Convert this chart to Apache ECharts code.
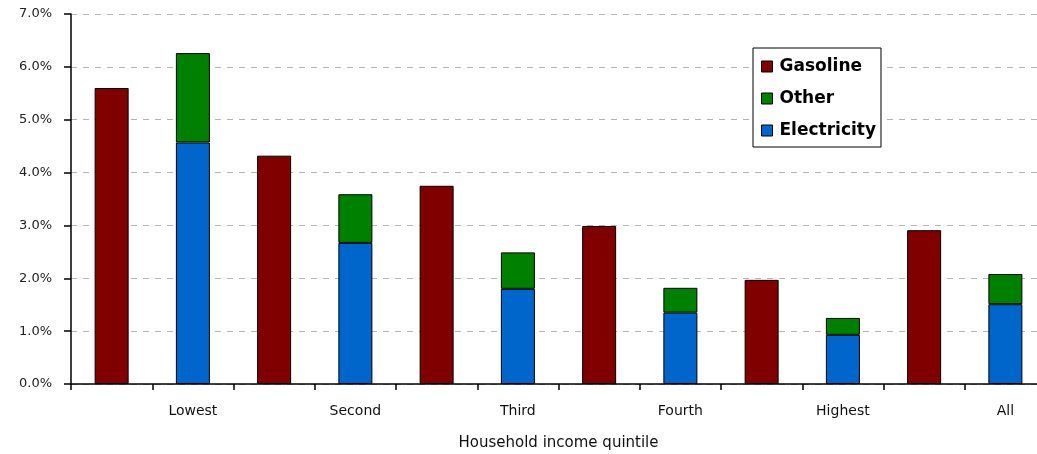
<!DOCTYPE html>
<html><head><meta charset="utf-8">
<script src="https://cdn.jsdelivr.net/npm/echarts@6/dist/echarts.min.js"></script>
<style>html,body{margin:0;padding:0;background:#fff}#c{width:1037px;height:454px}</style>
</head><body><div id="c"></div>
<script>
var quintiles = ['Lowest','Second','Third','Fourth','Highest','All'];
var gasoline = [5.60, 4.32, 3.75, 2.99, 1.97, 2.91];
var electricity = [4.57, 2.67, 1.80, 1.35, 0.93, 1.51];
var other = [1.69, 0.92, 0.69, 0.47, 0.32, 0.57];
var yTicks = [0,1,2,3,4,5,6,7];

// 12 slots: gasoline bar then the stacked bar labelled with the quintile
var cats = [], gasData = [], elecData = [], othData = [];
quintiles.forEach(function(q, i){
  cats.push(''); cats.push(q);
  gasData.push(gasoline[i]); gasData.push('-');
  elecData.push('-'); elecData.push(electricity[i]);
  othData.push('-'); othData.push(other[i]);
});

var chart = echarts.init(document.getElementById('c'));
var barStyle = function(c){ return {color:c, borderColor:'#000', borderWidth:1}; };
chart.setOption({
  animation:false,
  textStyle:{fontFamily:'DejaVu Sans, sans-serif'},
  grid:{left:71, top:14, bottom:70, right:-9, containLabel:false, outerBoundsMode:'none'},
  legend:{
    orient:'vertical', left:753, top:48,
    data:['Gasoline','Other','Electricity'],
    backgroundColor:'#fff', borderColor:'#000', borderWidth:1,
    padding:[10,5,8,8], itemGap:15, itemWidth:11, itemHeight:11, icon:'rect',
    itemStyle:{borderColor:'#000', borderWidth:1},
    textStyle:{fontSize:17, fontWeight:'bold', color:'#000', fontFamily:'DejaVu Sans, sans-serif', padding:[0,0,0,2]}
  },
  xAxis:{
    type:'category', data:cats,
    name:'Household income quintile', nameLocation:'middle', nameGap:52,
    nameTextStyle:{fontSize:15, color:'#111'},
    axisLine:{lineStyle:{color:'#000', width:1.5}},
    axisTick:{show:true, interval:0, alignWithLabel:false, length:6, lineStyle:{color:'#000', width:1.5}},
    axisLabel:{interval:0, fontSize:14, color:'#111', margin:20}
  },
  yAxis:{
    type:'value', min:0, max:7, interval:1,
    axisLine:{show:true, lineStyle:{color:'#000', width:1.5}},
    axisTick:{show:true, length:7, lineStyle:{color:'#000', width:1.5}},
    axisLabel:{fontSize:13, color:'#222', margin:19,
      formatter:function(v){ return v.toFixed(1) + '%'; }},
    splitLine:{show:true, lineStyle:{color:'#b5b5b5', type:[6,6], width:1}}
  },
  series:[
    {name:'Gasoline', type:'bar', stack:'all', data:gasData, barWidth:34, itemStyle:barStyle('#800000')},
    {name:'Electricity', type:'bar', stack:'all', data:elecData, barWidth:34, itemStyle:barStyle('#0066CC')},
    {name:'Other', type:'bar', stack:'all', data:othData, barWidth:34, itemStyle:barStyle('#008000')}
  ]
});
</script></body></html>
